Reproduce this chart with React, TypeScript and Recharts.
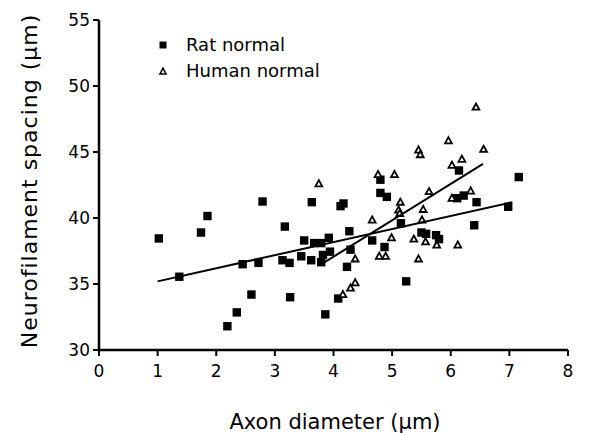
import { Legend, Scatter, ScatterChart, XAxis, YAxis } from 'recharts';

const xTicks = [0, 1, 2, 3, 4, 5, 6, 7, 8];
const yTicks = [30, 35, 40, 45, 50, 55];
const seriesNames = ['Rat normal', 'Human normal'];

const ratNormal = [
    { x: 1.02, y: 38.45 }, { x: 1.37, y: 35.55 }, { x: 1.74, y: 38.9 }, { x: 1.85, y: 40.15 },
    { x: 2.19, y: 31.8 }, { x: 2.35, y: 32.85 }, { x: 2.45, y: 36.5 }, { x: 2.6, y: 34.2 },
    { x: 2.72, y: 36.6 }, { x: 2.79, y: 41.25 }, { x: 3.13, y: 36.8 }, { x: 3.17, y: 39.35 },
    { x: 3.25, y: 36.6 }, { x: 3.26, y: 34.0 }, { x: 3.45, y: 37.1 }, { x: 3.5, y: 38.3 },
    { x: 3.62, y: 36.8 }, { x: 3.63, y: 41.2 }, { x: 3.67, y: 38.1 }, { x: 3.79, y: 38.1 },
    { x: 3.79, y: 36.65 }, { x: 3.82, y: 37.2 }, { x: 3.86, y: 32.7 }, { x: 3.92, y: 38.5 },
    { x: 3.94, y: 37.45 }, { x: 4.08, y: 33.9 }, { x: 4.12, y: 40.9 }, { x: 4.17, y: 41.1 },
    { x: 4.23, y: 36.3 }, { x: 4.27, y: 39.0 }, { x: 4.29, y: 37.6 }, { x: 4.66, y: 38.3 },
    { x: 4.8, y: 42.9 }, { x: 4.8, y: 41.9 }, { x: 4.87, y: 37.8 }, { x: 4.91, y: 41.6 },
    { x: 5.15, y: 39.6 }, { x: 5.24, y: 35.2 }, { x: 5.5, y: 38.9 }, { x: 5.58, y: 38.8 },
    { x: 5.75, y: 38.7 }, { x: 5.8, y: 38.4 }, { x: 6.11, y: 41.5 }, { x: 6.14, y: 43.6 },
    { x: 6.22, y: 41.7 }, { x: 6.4, y: 39.45 }, { x: 6.44, y: 41.2 }, { x: 6.98, y: 40.85 },
    { x: 7.16, y: 43.1 },
];

const humanNormal = [
    { x: 3.75, y: 42.6 }, { x: 4.16, y: 34.2 }, { x: 4.29, y: 34.7 }, { x: 4.37, y: 35.1 },
    { x: 4.37, y: 36.9 }, { x: 4.66, y: 39.85 }, { x: 4.76, y: 43.3 }, { x: 4.78, y: 37.1 },
    { x: 4.89, y: 37.1 }, { x: 4.99, y: 38.5 }, { x: 5.04, y: 43.3 }, { x: 5.11, y: 40.6 },
    { x: 5.13, y: 40.35 }, { x: 5.14, y: 41.2 }, { x: 5.37, y: 38.4 }, { x: 5.45, y: 36.9 },
    { x: 5.45, y: 45.15 }, { x: 5.48, y: 44.8 }, { x: 5.51, y: 39.85 }, { x: 5.53, y: 40.65 },
    { x: 5.57, y: 38.2 }, { x: 5.63, y: 42.0 }, { x: 5.76, y: 37.95 }, { x: 5.96, y: 45.85 },
    { x: 6.02, y: 44.0 }, { x: 6.02, y: 41.5 }, { x: 6.12, y: 37.95 }, { x: 6.19, y: 44.45 },
    { x: 6.34, y: 42.05 }, { x: 6.43, y: 48.4 }, { x: 6.56, y: 45.2 },
];

// regression lines, end points
const ratFit = [{ x: 1.0, y: 35.2 }, { x: 7.05, y: 41.2 }];
const humanFit = [{ x: 3.83, y: 36.6 }, { x: 6.55, y: 44.1 }];

const FONT = '"DejaVu Sans", sans-serif';

const SquareDot = (props: any) => {
    const { cx, cy } = props;
    return <rect x={cx - 4.2} y={cy - 4.2} width={8.4} height={8.4} fill="#000" />;
};

const TriangleDot = (props: any) => {
    const { cx, cy } = props;
    return (
        <path
            d={`M${cx},${cy - 3.6}L${cx + 3.4},${cy + 2.6}L${cx - 3.4},${cy + 2.6}Z`}
            fill="#fff"
            stroke="#000"
            strokeWidth={1.8}
        />
    );
};

const NoDot = () => <g />;

const LegendIcon = ({ name }: { name: string }) => (
    <svg width={10} height={10} style={{ marginRight: 18, flexShrink: 0 }}>
        {name === 'Rat normal' ? (
            <rect x={1.5} y={1.5} width={7} height={7} fill="#000" />
        ) : (
            <path d="M5,2.2L8,8L2,8Z" fill="#fff" stroke="#000" strokeWidth={1.6} />
        )}
    </svg>
);

const renderLegend = (props: any) => {
    const { payload = [] } = props;
    const items = payload
        .filter((entry: any) => seriesNames.includes(entry.value))
        .sort((a: any, b: any) => seriesNames.indexOf(a.value) - seriesNames.indexOf(b.value));
    return (
        <div style={{ fontFamily: FONT, fontSize: 18, color: '#000' }}>
            {items.map((entry: any) => (
                <div
                    key={entry.value}
                    style={{ display: 'flex', alignItems: 'center', height: 26, lineHeight: '26px' }}
                >
                    <LegendIcon name={entry.value} />
                    <span>{entry.value}</span>
                </div>
            ))}
        </div>
    );
};

const XTitle = (props: any) => {
    const { viewBox } = props;
    return (
        <text
            x={viewBox.x + viewBox.width / 2 + 1.5}
            y={viewBox.y + viewBox.height - 4}
            textAnchor="middle"
            fill="#000"
            fontSize={21}
            fontFamily={FONT}
        >
            Axon diameter (µm)
        </text>
    );
};

const YTitle = (props: any) => {
    const { viewBox } = props;
    return (
        <text
            transform={`translate(37,${viewBox.y + viewBox.height / 2 - 4}) rotate(-90)`}
            textAnchor="middle"
            fill="#000"
            fontSize={22}
            letterSpacing={1}
            fontFamily={FONT}
        >
            Neurofilament spacing (µm)
        </text>
    );
};

export default function App() {
    return (
        <div style={{ position: 'absolute', left: 0, top: 0, background: '#fff' }}>
            <ScatterChart width={590} height={433} margin={{ top: 20, right: 22, bottom: 0, left: 0 }}>
                <XAxis
                    type="number"
                    dataKey="x"
                    domain={[0, 8]}
                    ticks={xTicks}
                    interval={0}
                    height={83}
                    tickSize={6}
                    tickMargin={9}
                    axisLine={{ stroke: '#000', strokeWidth: 2.5 }}
                    tickLine={{ stroke: '#000', strokeWidth: 2 }}
                    tick={{ fill: '#000', fontSize: 17, fontFamily: FONT }}
                    label={<XTitle />}
                />
                <YAxis
                    type="number"
                    dataKey="y"
                    domain={[30, 55]}
                    ticks={yTicks}
                    interval={0}
                    width={99}
                    tickSize={6}
                    tickMargin={3}
                    axisLine={{ stroke: '#000', strokeWidth: 2.5 }}
                    tickLine={{ stroke: '#000', strokeWidth: 2 }}
                    tick={{ fill: '#000', fontSize: 17, fontFamily: FONT }}
                    label={<YTitle />}
                />
                <Legend
                    layout="vertical"
                    align="center"
                    verticalAlign="middle"
                    content={renderLegend}
                    wrapperStyle={{ left: 158, top: 32, width: 'auto', height: 'auto' }}
                />
                <Scatter name="Rat normal" data={ratNormal} shape={SquareDot} isAnimationActive={false} />
                <Scatter name="Human normal" data={humanNormal} shape={TriangleDot} isAnimationActive={false} />
                <Scatter
                    name="ratFit"
                    data={ratFit}
                    line={{ stroke: '#000', strokeWidth: 2 }}
                    shape={NoDot}
                    legendType="none"
                    isAnimationActive={false}
                />
                <Scatter
                    name="humanFit"
                    data={humanFit}
                    line={{ stroke: '#000', strokeWidth: 2 }}
                    shape={NoDot}
                    legendType="none"
                    isAnimationActive={false}
                />
            </ScatterChart>
        </div>
    );
}
